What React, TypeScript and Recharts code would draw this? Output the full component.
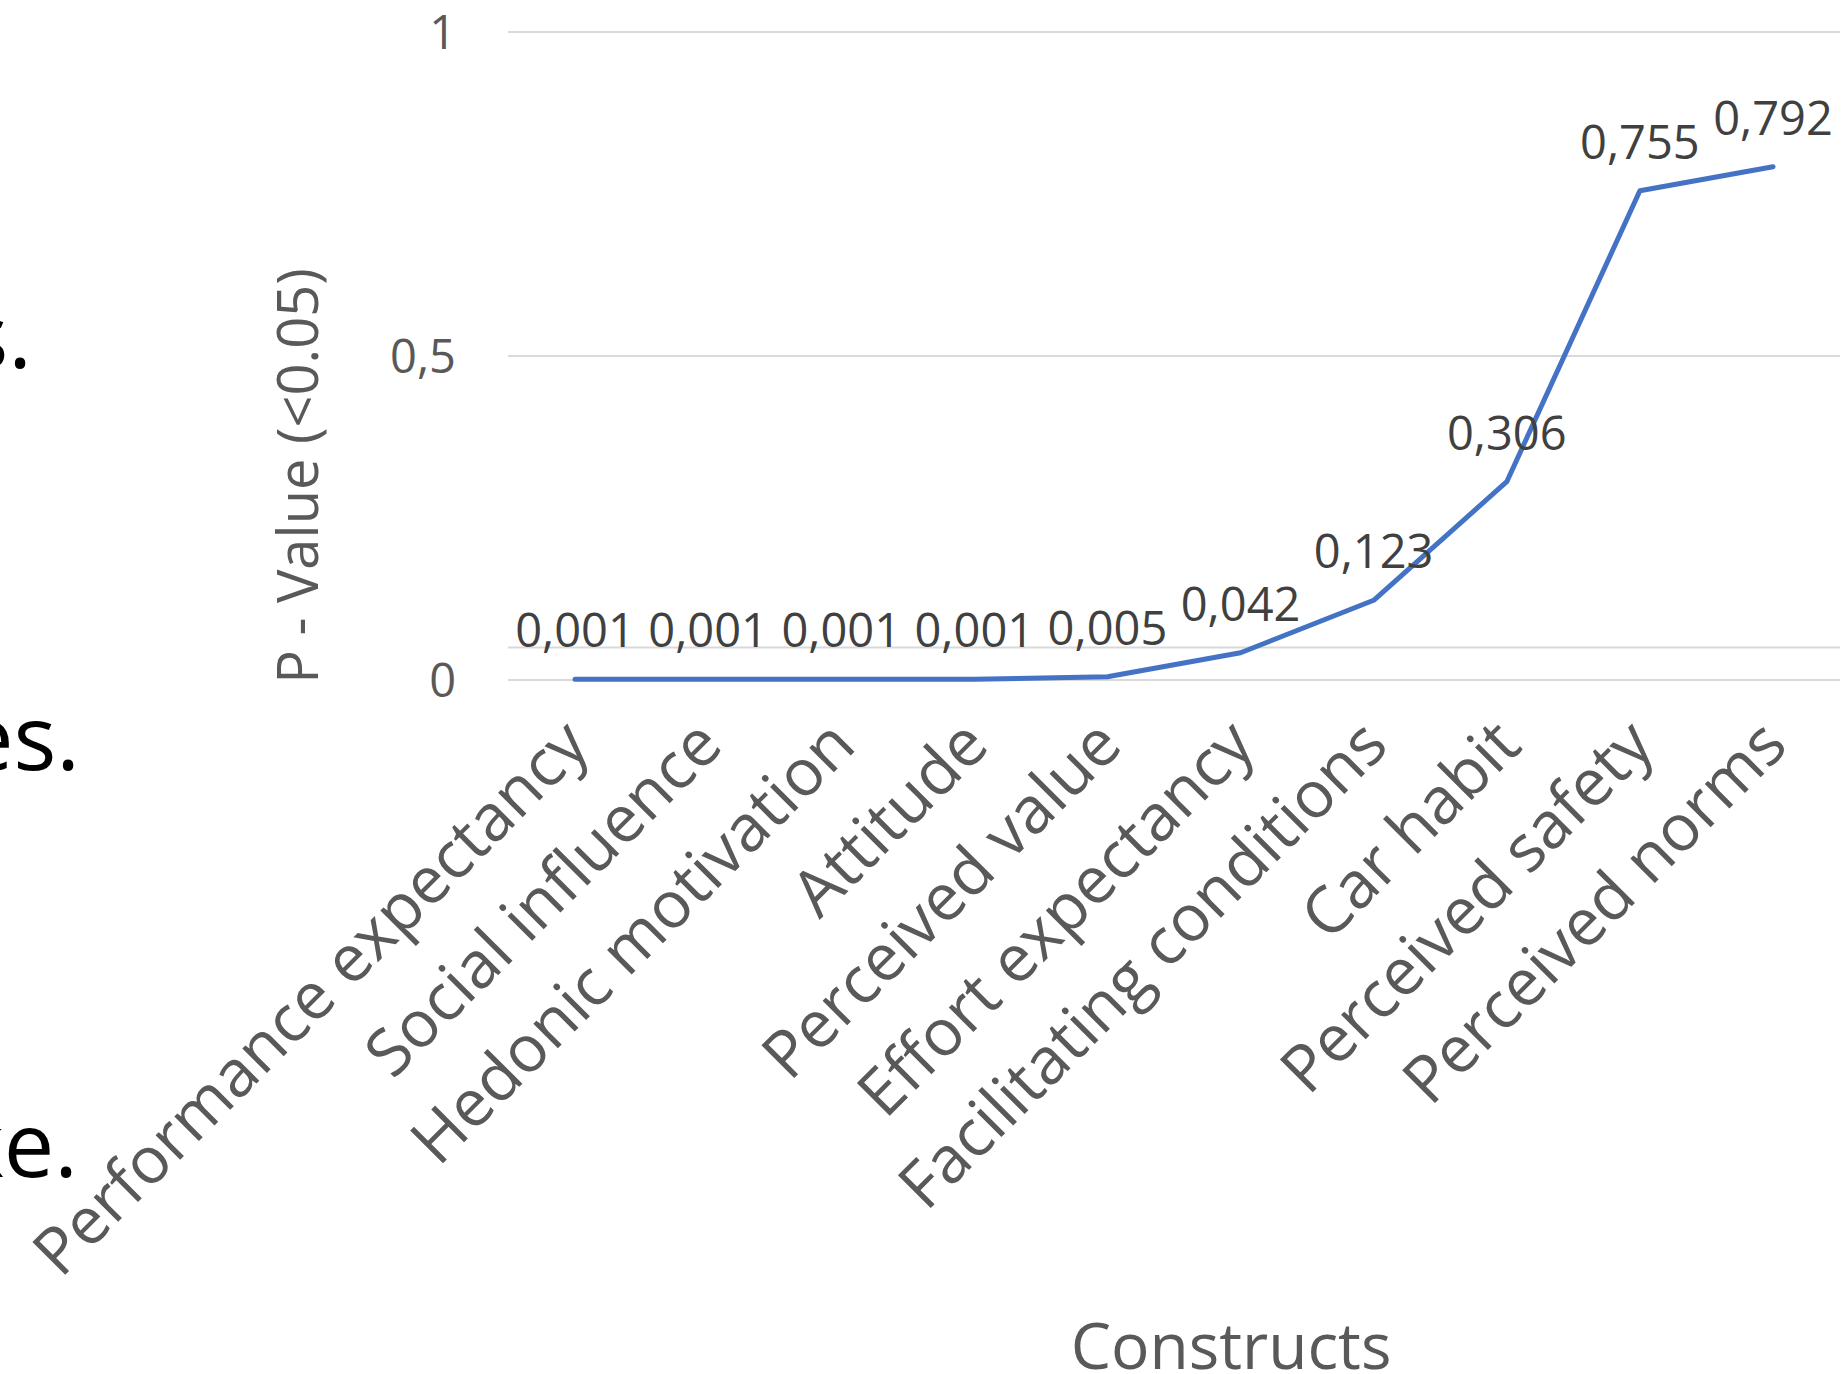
import React from "react";
import {
  LineChart,
  Line,
  XAxis,
  YAxis,
  CartesianGrid,
  ReferenceLine,
  LabelList,
  Label,
} from "recharts";

/* ── Data ────────────────────────────────────────────────────── */

const constructs = [
  "Performance expectancy",
  "Social influence",
  "Hedonic motivation",
  "Attitude",
  "Perceived value",
  "Effort expectancy",
  "Facilitating conditions",
  "Car habit",
  "Perceived safety",
  "Perceived norms",
];

const pValues = [0.001, 0.001, 0.001, 0.001, 0.005, 0.042, 0.123, 0.306, 0.755, 0.792];

const yTicks = [0, 0.5, 1];
const threshold = 0.05;

// cut-off slide text on the left edge of the screenshot
const slideFragments = ["s.", "es.", "ke."];

const data = constructs.map((c, i) => ({ construct: c, p: pValues[i] }));

/* ── Styling ─────────────────────────────────────────────────── */

const FONT = "'Open Sans', 'Noto Sans', sans-serif";
const GRAY = "#595959";
const GRID = "#D9D9D9";
const BLUE = "#4472C4";

const fmtComma = (v: number) => String(v).replace(".", ",");
const fmtP = (v: number) => v.toFixed(3).replace(".", ",");

function CategoryTick({ x, y, payload }: any) {
  const ax = x + 17;
  const ay = y + 68;
  return (
    <text
      x={ax}
      y={ay}
      textAnchor="end"
      fill={GRAY}
      fontSize={65}
      fontFamily={FONT}
      transform={`rotate(-45, ${ax}, ${ay})`}
    >
      {payload.value}
    </text>
  );
}

function XTitle({ viewBox }: any) {
  const cx = viewBox.x + viewBox.width / 2 + 57;
  return (
    <text
      x={cx}
      y={viewBox.y + viewBox.height - 5}
      textAnchor="middle"
      fill={GRAY}
      fontSize={64}
      fontFamily={FONT}
    >
      Constructs
    </text>
  );
}

function YTitle({ viewBox }: any) {
  const tx = viewBox.x - 90;
  const ty = viewBox.y + viewBox.height / 2 + 120;
  return (
    <text
      x={tx}
      y={ty}
      textAnchor="middle"
      fill={GRAY}
      fontSize={56}
      fontFamily={FONT}
      transform={`rotate(-90, ${tx}, ${ty})`}
    >
      P - Value (&lt;0.05)
    </text>
  );
}

export default function App() {
  return (
    <div
      style={{
        position: "absolute",
        left: 0,
        top: 0,
        width: 1844,
        height: 1374,
        overflow: "hidden",
        background: "#fff",
      }}
    >
      <svg
        width={200}
        height={1374}
        style={{ position: "absolute", left: 0, top: 0 }}
      >
        {slideFragments.map((t, i) => (
          <text
            key={t}
            x={[32, 80, 78][i]}
            y={[368, 770, 1177][i]}
            textAnchor="end"
            fontSize={90}
            fontFamily={FONT}
            fill="#000"
          >
            {t}
          </text>
        ))}
      </svg>
      <LineChart
        width={1844}
        height={1374}
        data={data}
        margin={{ top: 32, right: 4, bottom: 0, left: 408 }}
        style={{ position: "absolute", left: 0, top: 0 }}
      >
        <CartesianGrid vertical={false} stroke={GRID} strokeWidth={2} />
        <ReferenceLine y={threshold} stroke={GRID} strokeWidth={2} />
        <XAxis
          dataKey="construct"
          height={694}
          interval={0}
          axisLine={false}
          tickLine={false}
          tickSize={0}
          tickMargin={0}
          padding={{ left: 67, right: 67 }}
          tick={<CategoryTick />}
        >
          <Label content={<XTitle />} />
        </XAxis>
        <YAxis
          width={100}
          domain={[0, 1]}
          ticks={yTicks}
          axisLine={false}
          tickLine={false}
          tickSize={0}
          tickMargin={52}
          tickFormatter={fmtComma}
          tick={{ fill: GRAY, fontSize: 47, fontFamily: FONT }}
        >
          <Label content={<YTitle />} />
        </YAxis>
        <Line
          type="linear"
          dataKey="p"
          stroke={BLUE}
          strokeWidth={5}
          strokeLinecap="round"
          strokeLinejoin="round"
          dot={false}
          isAnimationActive={false}
        >
          <LabelList
            dataKey="p"
            position="top"
            offset={32}
            formatter={fmtP}
            fill="#404040"
            fontSize={47}
            fontFamily={FONT}
          />
        </Line>
      </LineChart>
    </div>
  );
}
